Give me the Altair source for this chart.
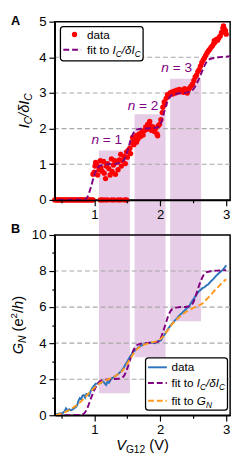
import altair as alt
import pandas as pd

# ---------------- data ----------------
# Panel A: measured I_C / dI_C (red dots)
a_x = [0.40, 0.42, 0.44, 0.46, 0.48, 0.50, 0.52, 0.54, 0.56, 0.58, 0.60, 0.62, 0.64, 0.66, 0.68,
       0.70, 0.72, 0.74, 0.76, 0.78, 0.80, 0.82, 0.84, 0.86, 0.88, 0.90, 0.92, 0.94, 0.96, 0.98,
       1.09, 1.12, 1.16, 1.20, 1.26, 1.30, 1.36, 1.40, 1.46, 1.49,
       0.98, 1.00, 1.01, 1.02, 1.04, 1.05, 1.07, 1.09, 1.10, 1.12, 1.14, 1.15, 1.17, 1.18, 1.20,
       1.22, 1.24, 1.26, 1.27, 1.29, 1.31, 1.32, 1.34, 1.36, 1.38, 1.40, 1.41, 1.43, 1.45, 1.47,
       1.49, 1.50,
       1.52, 1.54, 1.55, 1.57, 1.58, 1.60, 1.61, 1.63, 1.64, 1.66, 1.68, 1.70,
       1.72, 1.74, 1.76, 1.78, 1.80, 1.81, 1.83, 1.84, 1.85, 1.87, 1.89, 1.91, 1.93, 1.95, 1.96,
       1.97, 1.99,
       2.01, 2.03, 2.04, 2.06, 2.07, 2.09, 2.11, 2.13, 2.15,
       2.17, 2.19, 2.21, 2.23, 2.25, 2.27, 2.29, 2.31, 2.33, 2.35, 2.37, 2.39, 2.41, 2.43, 2.45,
       2.47,
       2.49, 2.51, 2.53, 2.55, 2.57, 2.59, 2.61, 2.63, 2.65, 2.67, 2.69, 2.71, 2.73, 2.75, 2.77,
       2.79, 2.81, 2.82, 2.83, 2.85, 2.87, 2.89, 2.91, 2.93, 2.95, 2.96, 2.97, 2.98, 2.99, 3.00]
a_y = [0, 0, 0, 0, 0, 0, 0, 0, 0, 0, 0, 0, 0, 0, 0,
       0, 0, 0, 0, 0, 0, 0, 0, 0, 0, 0, 0, 0, 0, 0,
       0, 0, 0, 0, 0, 0, 0, 0, 0, 0,
       0.72, 0.78, 0.95, 1.05, 0.98, 0.70, 0.85, 1.10, 0.90, 0.80, 1.08, 0.75, 0.60, 0.95, 1.02,
       0.88, 0.70, 1.15, 0.80, 0.98, 1.10, 0.72, 1.05, 0.85, 1.12, 1.28, 0.95, 1.10, 1.22, 1.02,
       1.35, 1.20,
       1.40, 1.45, 1.30, 1.60, 1.75, 1.55, 1.68, 1.80, 1.62, 1.70, 1.85, 1.78,
       1.90, 1.82, 1.95, 2.05, 1.98, 2.12, 2.00, 2.20, 2.08, 1.95, 2.05, 1.92, 2.00, 1.85, 1.80,
       2.08, 2.12,
       2.25, 2.45, 2.60, 2.75, 2.68, 2.85, 2.95, 2.92, 3.00,
       3.02, 2.97, 3.05, 3.00, 3.08, 3.03, 3.10, 3.05, 3.08, 3.02, 3.12, 3.06, 3.00, 3.10, 3.15,
       3.20,
       3.25, 3.35, 3.45, 3.50, 3.60, 3.65, 3.75, 3.85, 3.92, 3.98, 4.05, 4.12, 4.18, 4.22, 4.28,
       4.32, 4.38, 4.47, 4.42, 4.50, 4.48, 4.55, 4.60, 4.70, 4.82, 4.88, 4.80, 4.70, 4.75, 4.65]

# Panel A: fit to I_C / dI_C (purple dashed)
fitA_x = [0.45, 0.85, 0.90, 0.95, 1.00, 1.05, 1.10, 1.20, 1.30, 1.40, 1.45, 1.50, 1.55, 1.60,
          1.65, 1.75, 1.85, 1.95, 2.00, 2.05, 2.10, 2.15, 2.20, 2.30, 2.40, 2.45, 2.50, 2.55,
          2.60, 2.65, 2.70, 2.75, 2.85, 3.00, 3.06]
fitA_y = [0.00, 0.01, 0.10, 0.37, 0.70, 0.90, 0.97, 1.00, 1.01, 1.05, 1.12, 1.35, 1.68, 1.90,
          1.98, 2.00, 2.01, 2.03, 2.10, 2.40, 2.72, 2.90, 2.96, 2.99, 3.01, 3.04, 3.10, 3.25,
          3.45, 3.68, 3.86, 3.95, 3.99, 4.02, 4.03]

# Panel B: measured G_N (blue)
gn_x = [0.42, 0.47, 0.52, 0.55, 0.57, 0.60, 0.62, 0.64, 0.66, 0.69, 0.72, 0.74, 0.76, 0.78, 0.80,
        0.82, 0.84, 0.86, 0.88, 0.90, 0.92, 0.94, 0.96, 0.98, 1.00, 1.02, 1.05, 1.08, 1.10, 1.12,
        1.14, 1.16, 1.18, 1.20, 1.22, 1.24, 1.26, 1.29, 1.32, 1.35, 1.38, 1.41, 1.44, 1.47, 1.50,
        1.53, 1.56, 1.59, 1.62, 1.65, 1.68, 1.72, 1.76, 1.80, 1.84, 1.88, 1.92, 1.95, 1.98, 2.01,
        2.03, 2.06, 2.08, 2.10, 2.13, 2.16, 2.19, 2.22, 2.25, 2.28, 2.31, 2.34, 2.37, 2.40, 2.44,
        2.47, 2.50, 2.53, 2.56, 2.58, 2.61, 2.64, 2.67, 2.70, 2.73, 2.76, 2.79, 2.82, 2.85, 2.88,
        2.92, 2.95, 2.98, 3.00]
gn_y = [0.05, 0.10, 0.12, 0.22, 0.38, 0.25, 0.33, 0.28, 0.30, 0.38, 0.45, 0.55, 0.80, 0.95, 0.88,
        1.08, 1.12, 0.98, 1.18, 1.15, 1.08, 1.30, 1.45, 1.58, 1.65, 1.75, 1.76, 1.78, 1.79, 1.85,
        1.86, 1.76, 1.68, 1.86, 1.80, 1.92, 2.04, 2.10, 2.18, 2.25, 2.35, 2.45, 2.60, 2.80, 2.98,
        3.18, 3.35, 3.50, 3.62, 3.70, 3.78, 3.88, 3.95, 4.00, 4.03, 4.02, 4.00, 4.08, 4.12, 4.15,
        4.30, 4.45, 4.55, 4.66, 4.85, 5.00, 5.12, 5.25, 5.36, 5.50, 5.60, 5.71, 5.82, 5.92, 6.05,
        6.25, 6.42, 6.58, 6.75, 6.85, 6.95, 7.05, 7.10, 7.20, 7.27, 7.40, 7.50, 7.62, 7.75, 7.85,
        7.97, 8.08, 8.20, 8.32]

# Panel B: fit to I_C / dI_C (purple dashed)
fitBi_x = [0.42, 0.80, 0.85, 0.90, 0.95, 1.00, 1.05, 1.10, 1.15, 1.25, 1.35, 1.42, 1.46, 1.50,
           1.54, 1.58, 1.62, 1.66, 1.72, 1.85, 1.95, 2.00, 2.04, 2.08, 2.12, 2.16, 2.20, 2.28,
           2.40, 2.46, 2.50, 2.54, 2.58, 2.62, 2.66, 2.70, 2.78, 2.90, 3.00]
fitBi_y = [0.00, 0.02, 0.12, 0.45, 0.95, 1.40, 1.75, 1.92, 1.97, 2.00, 2.02, 2.08, 2.25, 2.60,
           3.05, 3.50, 3.78, 3.92, 3.98, 4.02, 4.06, 4.20, 4.60, 5.05, 5.50, 5.80, 5.93, 5.99,
           6.02, 6.08, 6.25, 6.65, 7.10, 7.50, 7.80, 7.94, 8.00, 8.03, 8.05]

# Panel B: fit to G_N (orange dashed)
fitBg_x = [0.42, 0.50, 0.58, 0.66, 0.74, 0.82, 0.90, 0.98, 1.05, 1.12, 1.20, 1.28, 1.35, 1.42,
           1.48, 1.54, 1.60, 1.66, 1.72, 1.80, 1.88, 1.95, 2.02, 2.10, 2.18, 2.26, 2.34, 2.42,
           2.50, 2.58, 2.64, 2.70, 2.76, 2.82, 2.88, 2.94, 3.00]
fitBg_y = [0.00, 0.10, 0.22, 0.38, 0.58, 0.85, 1.15, 1.45, 1.68, 1.85, 1.98, 2.10, 2.25, 2.45,
           2.75, 3.10, 3.45, 3.70, 3.85, 3.97, 4.05, 4.12, 4.28, 4.65, 5.05, 5.35, 5.60, 5.80,
           5.95, 6.08, 6.20, 6.42, 6.65, 6.90, 7.12, 7.35, 7.55]

# shaded plateau bands
band_x0 = [1.07, 1.61, 2.15]
band_x1 = [1.54, 2.08, 2.62]
band_topA = [1.39, 2.40, 3.40]     # upper end in panel A units
band_botB = [1.22, 3.22, 5.22]     # lower end in panel B units

# plateau labels
n_text = ["1", "2", "3"]
n_x = [1.19, 1.74, 2.25]
n_y = [1.70, 2.66, 3.73]

gridA = [1, 2, 3, 4]
gridB = [2, 4, 6, 8]
ticks_x = [0.5, 1, 1.5, 2, 2.5, 3]
ticks_A = [0, 1, 2, 3, 4, 5]
ticks_B = [0, 1, 2, 3, 4, 5, 6, 7, 8, 9, 10]

# ---------------- layout / style ----------------
FONT = "Liberation Sans"
W, HA, HB, GAP = 180, 183, 185, 36
XDOM = [0.4, 3.06]
PURPLE = "#800080"
RED = "#ff0000"
BLUE = "#2c75bd"
ORANGE = "#ff9a1f"
GRID = "#a8a8a8"

CW = {' ': 278, '(': 333, ')': 333, '/': 278, '=': 584, 'a': 556, 'd': 556, 'e': 556,
      'f': 278, 'h': 556, 'i': 222, 'n': 556, 'o': 556, 't': 278, '0': 556, '1': 556,
      '2': 556, '3': 556, 'G': 778, 'I': 278, 'N': 722, 'V': 667, 'C': 722, 'δ': 556}


def tw(s, size):
    return sum(CW.get(c, 556) for c in s) / 1000.0 * size


def x_axis():
    return alt.Axis(values=ticks_x, title="", grid=False, zindex=1,
                    labelExpr="datum.value % 1 == 0 ? '' + datum.value : ''",
                    tickSize={"condition": {"test": "datum.value % 1 != 0", "value": 3}, "value": 6},
                    labelPadding=2, labelOverlap=False, labelFlush=False)


def y_axis(vals, even_only):
    kw = dict(values=vals, title="", grid=False, zindex=1, labelPadding=3,
              labelOverlap=False, labelFlush=False)
    if even_only:
        kw["labelExpr"] = "datum.value % 2 == 0 ? '' + datum.value : ''"
        kw["tickSize"] = {"condition": {"test": "datum.value % 2 != 0", "value": 3}, "value": 6}
    else:
        kw["tickSize"] = 6
    return alt.Axis(**kw)


XS = alt.Scale(domain=XDOM, nice=False, zero=False)
YSA = alt.Scale(domain=[0, 5], nice=False, zero=False)
YSB = alt.Scale(domain=[0, 10], nice=False, zero=False)


def XE(f):
    return alt.X(f, type="quantitative", scale=XS, axis=x_axis())


def YA(f):
    return alt.Y(f, type="quantitative", scale=YSA, axis=y_axis(ticks_A, False))


def YB(f):
    return alt.Y(f, type="quantitative", scale=YSB, axis=y_axis(ticks_B, True))


def rich(segs, xenc, yenc, row=None, angle=0, anchor="left", color="black", base_dy=0):
    """segs: (text, size, style, shift) -- composed text with sub/superscripts"""
    total = sum(tw(t, s) for t, s, st, sh in segs)
    cur = {"left": 0.0, "center": -total / 2.0, "right": -total}[anchor]
    out = []
    for t, s, st, sh in segs:
        lead = len(t) - len(t.lstrip())
        cur += tw(t[:lead], s)
        body = t.strip()
        if body:
            d = dict(row or {})
            d["t"] = body
            mk = dict(align="left", baseline="alphabetic", dx=cur, dy=sh + base_dy,
                      fontSize=s, font=FONT, color=color)
            if st != "normal":
                mk["fontStyle"] = st
            if angle:
                mk["angle"] = angle
            out.append(alt.Chart(pd.DataFrame([d])).mark_text(**mk).encode(
                x=xenc, y=yenc, text="t:N"))
        cur += tw(t.lstrip(), s)
    return out


# ---------------- panel A ----------------
gap_units = GAP / (HA / 5.0)
bandsA = pd.DataFrame({"x0": band_x0, "x1": band_x1, "top": band_topA,
                       "bot": [-gap_units] * len(band_x0)})
bandsB = pd.DataFrame({"x0": band_x0, "x1": band_x1, "top": [10] * len(band_x0),
                       "bot": band_botB})

layersA = []
layersA.append(alt.Chart(bandsA).mark_rect(color=PURPLE, opacity=0.2).encode(
    x=XE("x0"), x2="x1", y=YA("top"), y2="bot"))
layersA.append(alt.Chart(pd.DataFrame({"g": gridA})).mark_rule(
    color=GRID, strokeDash=[5, 3], strokeWidth=1.1).encode(y=YA("g")))
layersA.append(alt.Chart(pd.DataFrame({"x": a_x, "y": a_y})).mark_circle(
    color=RED, size=30, opacity=1).encode(x=XE("x"), y=YA("y")))
layersA.append(alt.Chart(pd.DataFrame({"x": fitA_x, "y": fitA_y})).mark_line(
    color=PURPLE, strokeDash=[6, 3], strokeWidth=2, interpolate="monotone").encode(
    x=XE("x"), y=YA("y")))

# legend A
layersA.append(alt.Chart(pd.DataFrame([{"x0": 0.486, "x1": 1.74, "y0": 3.90, "y1": 4.86}])).mark_rect(
    fill="white", stroke="black", strokeWidth=1.3, cornerRadius=3).encode(
    x=XE("x0"), x2="x1", y=YA("y0"), y2="y1"))
layersA.append(alt.Chart(pd.DataFrame([{"x": 0.70, "y": 4.64}])).mark_circle(
    color=RED, size=30, opacity=1).encode(x=XE("x"), y=YA("y")))
layersA.append(alt.Chart(pd.DataFrame([{"x0": 0.53, "x1": 0.80, "y": 4.21}])).mark_rule(
    color=PURPLE, strokeDash=[6, 3], strokeWidth=2).encode(x=XE("x0"), x2="x1", y=YA("y")))
layersA += rich([("data", 12, "normal", 0)], XE("x"), YA("y"), {"x": 0.89, "y": 4.64}, base_dy=4.2)
layersA += rich([("fit to ", 12, "normal", 0), ("I", 12, "italic", 0), ("C", 8.5, "italic", 3),
                 ("/δ", 12, "italic", 0), ("I", 12, "italic", 0), ("C", 8.5, "italic", 3)],
                XE("x"), YA("y"), {"x": 0.89, "y": 4.21}, base_dy=4.2)

# plateau labels
for t, xx, yy in zip(n_text, n_x, n_y):
    layersA += rich([("n", 14, "italic", 0), (" = " + t, 14, "normal", 0)],
                    XE("x"), YA("y"), {"x": xx, "y": yy}, anchor="center", color=PURPLE, base_dy=5)

# axis title A and panel letter
layersA += rich([("I", 15, "italic", 0), ("C", 10.5, "italic", 3.5), ("/δ", 15, "italic", 0),
                 ("I", 15, "italic", 0), ("C", 10.5, "italic", 3.5)],
                alt.value(-26.5), alt.value(HA / 2), angle=270, anchor="center")
layersA.append(alt.Chart(pd.DataFrame([{"t": "A"}])).mark_text(
    align="left", baseline="alphabetic", fontSize=13, fontWeight="bold", font=FONT,
    color="black").encode(x=alt.value(-45), y=alt.value(3), text="t:N"))

panelA = alt.layer(*layersA).properties(width=W, height=HA)

# ---------------- panel B ----------------
layersB = []
layersB.append(alt.Chart(bandsB).mark_rect(color=PURPLE, opacity=0.2).encode(
    x=XE("x0"), x2="x1", y=YB("top"), y2="bot"))
layersB.append(alt.Chart(pd.DataFrame({"g": gridB})).mark_rule(
    color=GRID, strokeDash=[5, 3], strokeWidth=1.1).encode(y=YB("g")))
layersB.append(alt.Chart(pd.DataFrame({"x": gn_x, "y": gn_y})).mark_line(
    color=BLUE, strokeWidth=2).encode(x=XE("x"), y=YB("y")))
layersB.append(alt.Chart(pd.DataFrame({"x": fitBi_x, "y": fitBi_y})).mark_line(
    color=PURPLE, strokeDash=[6, 3], strokeWidth=2, interpolate="monotone").encode(
    x=XE("x"), y=YB("y")))
layersB.append(alt.Chart(pd.DataFrame({"x": fitBg_x, "y": fitBg_y})).mark_line(
    color=ORANGE, strokeDash=[6, 3], strokeWidth=2, interpolate="monotone").encode(
    x=XE("x"), y=YB("y")))

# legend B
layersB.append(alt.Chart(pd.DataFrame([{"x0": 1.777, "x1": 3.02, "y0": 0.28, "y1": 3.18}])).mark_rect(
    fill="white", stroke="black", strokeWidth=1.3, cornerRadius=3).encode(
    x=XE("x0"), x2="x1", y=YB("y0"), y2="y1"))
leg_rows = pd.DataFrame({"x0": [1.815] * 3, "x1": [2.10] * 3, "y": [2.66, 1.79, 0.80],
                         "c": ["data", "ic", "gn"]})
layersB.append(alt.Chart(leg_rows.iloc[[0]]).mark_rule(color=BLUE, strokeWidth=2).encode(
    x=XE("x0"), x2="x1", y=YB("y")))
layersB.append(alt.Chart(leg_rows.iloc[[1]]).mark_rule(color=PURPLE, strokeWidth=2, strokeDash=[6, 3]).encode(
    x=XE("x0"), x2="x1", y=YB("y")))
layersB.append(alt.Chart(leg_rows.iloc[[2]]).mark_rule(color=ORANGE, strokeWidth=2, strokeDash=[6, 3]).encode(
    x=XE("x0"), x2="x1", y=YB("y")))
layersB += rich([("data", 12, "normal", 0)], XE("x"), YB("y"), {"x": 2.17, "y": 2.66}, base_dy=4.2)
layersB += rich([("fit to ", 12, "normal", 0), ("I", 12, "italic", 0), ("C", 8.5, "italic", 3),
                 ("/δ", 12, "italic", 0), ("I", 12, "italic", 0), ("C", 8.5, "italic", 3)],
                XE("x"), YB("y"), {"x": 2.17, "y": 1.79}, base_dy=4.2)
layersB += rich([("fit to ", 12, "normal", 0), ("G", 12, "italic", 0), ("N", 8.5, "italic", 3)],
                XE("x"), YB("y"), {"x": 2.17, "y": 0.80}, base_dy=4.2)

# axis titles B and panel letter
layersB += rich([("G", 15, "italic", 0), ("N", 10.5, "italic", 3.5), (" (e", 15, "normal", 0),
                 ("2", 10, "normal", -6), ("/", 15, "normal", 0), ("h", 15, "italic", 0),
                 (")", 15, "normal", 0)],
                alt.value(-33), alt.value(HB / 2), angle=270, anchor="center")
layersB += rich([("V", 15, "italic", 0), ("G12", 10.5, "normal", 3.5), (" (V)", 15, "normal", 0)],
                alt.value(W / 2), alt.value(HB + 35.5), anchor="center")
layersB.append(alt.Chart(pd.DataFrame([{"t": "B"}])).mark_text(
    align="left", baseline="alphabetic", fontSize=13, fontWeight="bold", font=FONT,
    color="black").encode(x=alt.value(-45), y=alt.value(-2), text="t:N"))

panelB = alt.layer(*layersB).properties(width=W, height=HB)

chart = alt.vconcat(panelA, panelB, spacing=GAP, bounds="flush").properties(
    padding=0
).configure_view(
    stroke="black", strokeWidth=1.5
).configure_axis(
    labelFont=FONT, labelFontSize=13.5, labelColor="black",
    domainColor="black", domainWidth=1.5, tickColor="black", tickWidth=1.2
)

chart.save("out.html", embed_options={"renderer": "svg", "actions": False})
